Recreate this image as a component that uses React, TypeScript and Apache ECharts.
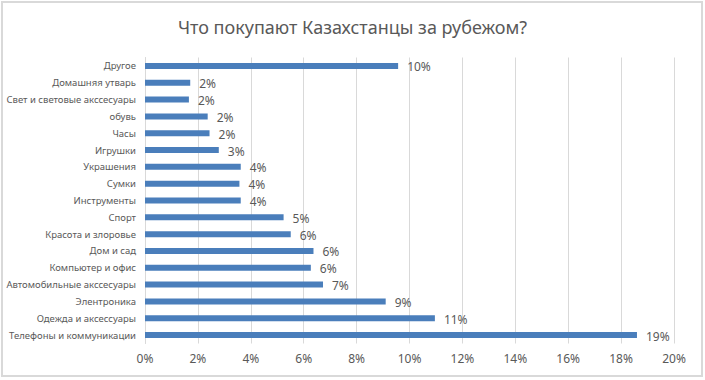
import React, { useEffect, useRef } from "react";
import * as echarts from "echarts";

const categories = [
  "Телефоны и коммуникации",
  "Одежда и аксессуары",
  "Элентроника",
  "Автомобильные акссесуары",
  "Компьютер и офис",
  "Дом и сад",
  "Красота и злоровье",
  "Спорт",
  "Инструменты",
  "Сумки",
  "Украшения",
  "Игрушки",
  "Часы",
  "обувь",
  "Свет и световые акссесуары",
  "Домашняя утварь",
  "Другое",
];

const shares = [
  18.6, 10.96, 9.1, 6.73, 6.27, 6.37, 5.51, 5.24, 3.62, 3.57, 3.62, 2.79, 2.44, 2.37,
  1.66, 1.71, 9.57,
];

const xTicks = { min: 0, max: 20, interval: 2 };

const titleText = "Что покупают Казахстанцы за рубежом?";

export default function App() {
  const ref = useRef<HTMLDivElement>(null);
  useEffect(() => {
    document.body.style.margin = "0";
    if (!ref.current) return;
    const chart = echarts.init(ref.current, null, { renderer: "svg" });
    const font = "Noto Sans";
    chart.setOption({
      animation: false,
      backgroundColor: "#ffffff",
      title: {
        text: titleText,
        left: "center",
        top: 13,
        textStyle: {
          fontFamily: font,
          fontSize: 18,
          fontWeight: "normal",
          color: "#595959",
        },
      },
      graphic: [
        {
          type: "rect",
          shape: { x: 2, y: 2, width: 700, height: 374 },
          style: { fill: "none", stroke: "#d9d9d9", lineWidth: 2 },
          silent: true,
        },
      ],
      grid: { left: 145, right: 31, top: 57.5, bottom: 36.5 },
      xAxis: {
        type: "value",
        min: xTicks.min,
        max: xTicks.max,
        interval: xTicks.interval,
        axisLine: { show: false },
        axisTick: { show: false },
        splitLine: { show: true, lineStyle: { color: "#d9d9d9", width: 1 } },
        axisLabel: {
          formatter: "{value}%",
          color: "#595959",
          fontFamily: font,
          fontSize: 12,
          margin: 9,
        },
      },
      yAxis: {
        type: "category",
        data: categories,
        axisLine: { show: true, lineStyle: { color: "#d9d9d9" } },
        axisTick: { show: false },
        axisLabel: {
          color: "#595959",
          fontFamily: font,
          fontSize: 9.5,
          margin: 9,
        },
      },
      series: [
        {
          type: "bar",
          data: shares,
          barWidth: 6,
          itemStyle: { color: "#4a7ebb" },
          label: {
            show: true,
            position: "right",
            distance: 9,
            offset: [0, 1],
            color: "#595959",
            fontFamily: font,
            fontSize: 12,
            formatter: (p: any) => Math.round(p.value) + "%",
          },
        },
      ],
    });
    return () => chart.dispose();
  }, []);
  return <div ref={ref} style={{ width: 705, height: 380 }} />;
}
